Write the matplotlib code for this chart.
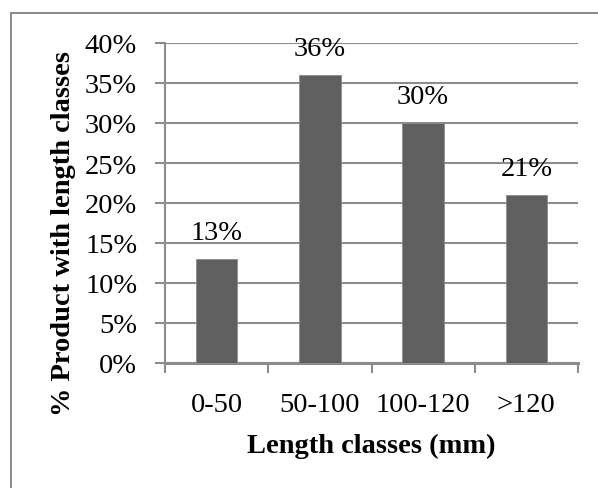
import matplotlib.pyplot as plt
import matplotlib.patches as patches
from matplotlib.ticker import FuncFormatter, FixedLocator

# length-class share of product
classes = ['0-50', '50-100', '100-120', '>120']
share = [0.13, 0.36, 0.30, 0.21]
labels = ['13%', '36%', '30%', '21%']

plt.rcParams['font.family'] = ['Liberation Serif', 'DejaVu Serif']
grid_c = '#8c8c8c'
fs = 20.5

fig = plt.figure(figsize=(5.98, 4.89), dpi=100)
ax = fig.add_axes([165/598, 1 - 364/489, (578 - 165)/598, (364 - 44)/489])

# outer chart frame
fig.patches.append(patches.Rectangle((11/598, -0.2), 1.2, 1.2 - 14/489,
                                     transform=fig.transFigure, fill=False,
                                     edgecolor='#8a8a8a', linewidth=1.4))

x = range(len(classes))
ax.bar(x, share, width=0.4, color='#606060', edgecolor='#8a8a8a', linewidth=0.6, zorder=3)
for xi, v, t in zip(x, share, labels):
    ax.annotate(t, (xi, v), xytext=(0, 19), textcoords='offset points',
                ha='center', va='center', fontsize=fs, color='black', zorder=4)

ax.set_xlim(-0.5, 3.5)
ax.set_ylim(0, 0.40)
ax.set_yticks([i * 0.05 for i in range(9)])
ax.yaxis.set_major_formatter(FuncFormatter(lambda v, p: f'{v*100:.0f}%'))
ax.yaxis.grid(True, color=grid_c, linewidth=1.5, zorder=0)

ax.set_xticks(list(x))
ax.set_xticklabels(classes)
ax.xaxis.set_minor_locator(FixedLocator([-0.5, 0.5, 1.5, 2.5, 3.5]))
ax.tick_params(axis='x', which='major', length=0, pad=21, labelsize=fs)
ax.tick_params(axis='x', which='minor', length=7, width=1.5, color=grid_c, direction='out')
ax.tick_params(axis='y', length=7, width=1.5, color=grid_c, pad=13, labelsize=fs)

for s in ['top', 'right']:
    ax.spines[s].set_visible(False)
ax.spines['left'].set_color(grid_c)
ax.spines['left'].set_linewidth(1.5)
ax.spines['bottom'].set_color(grid_c)
ax.spines['bottom'].set_linewidth(2.2)

ax.set_xlabel('Length classes (mm)', fontsize=fs, fontweight='bold', labelpad=11)
fig.text(64/598, 1 - 234/489, '% Product with length classes', rotation=90,
         ha='center', va='center', fontsize=fs, fontweight='bold')

fig.savefig('out.png', dpi=100)
